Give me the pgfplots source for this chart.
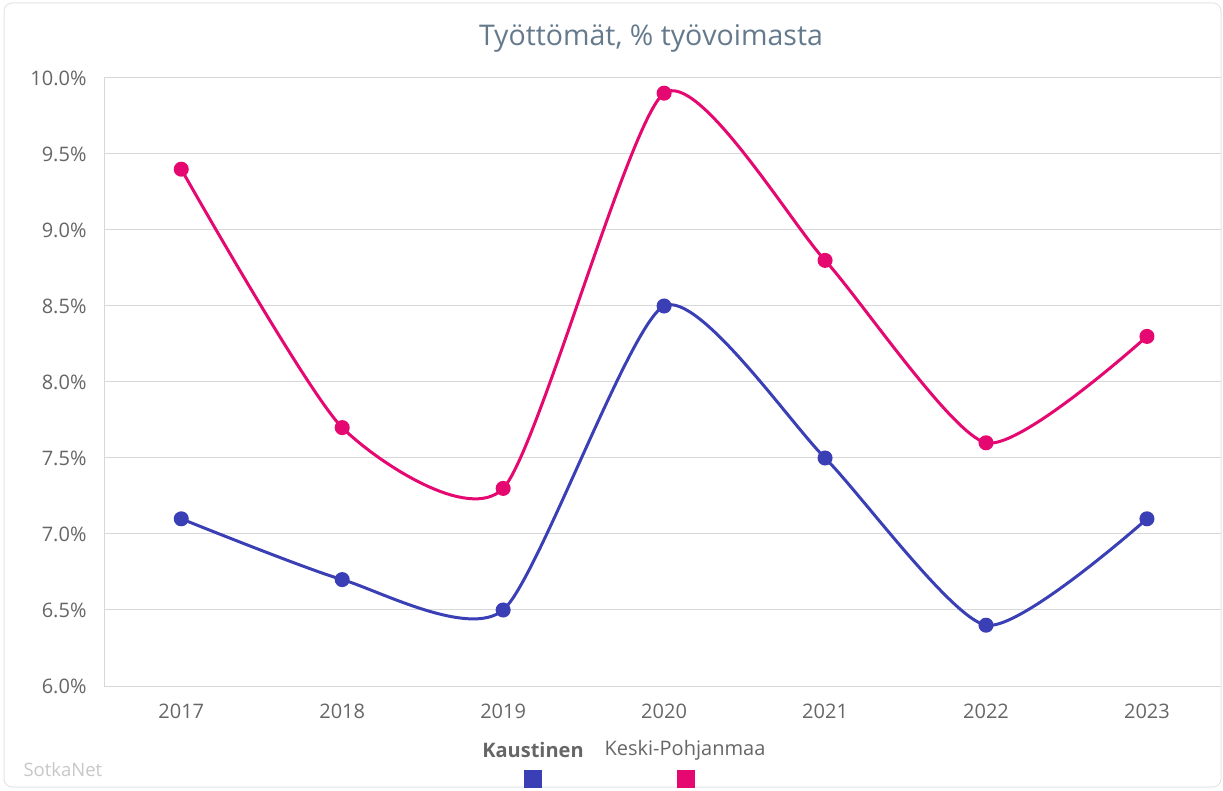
\documentclass[border=0pt]{standalone}
\usepackage{pgfplots}
\pgfplotsset{compat=1.18}
\usepackage{fontspec}
\setmainfont{Open Sans}
\definecolor{kblue}{RGB}{59,63,181}
\definecolor{kpink}{RGB}{228,8,112}
\definecolor{tickgray}{RGB}{102,102,102}
\definecolor{titlegray}{RGB}{100,122,140}
\definecolor{gridgray}{RGB}{216,216,216}
\begin{document}
\begin{tikzpicture}[x=1pt,y=1pt]
\path[use as bounding box] (0,0) rectangle (1223,790);
\draw[gridgray!70, line width=1pt, rounded corners=8pt] (4,3) rectangle (1221,787);
\node[font=\fontsize{28.5}{33}\selectfont, text=titlegray] at (651,752) {Työttömät, \% työvoimasta};
\begin{axis}[
  at={(104pt,104pt)}, anchor=south west,
  scale only axis, width=1117pt, height=608pt,
  xmin=-0.48, xmax=6.46, ymin=6, ymax=10,
  xtick={0,1,2,3,4,5,6},
  xticklabels={2017,2018,2019,2020,2021,2022,2023},
  ytick={6,6.5,7,7.5,8,8.5,9,9.5,10},
  yticklabels={6.0\%,6.5\%,7.0\%,7.5\%,8.0\%,8.5\%,9.0\%,9.5\%,10.0\%},
  ymajorgrids, major grid style={gridgray, line width=1pt},
  axis x line*=bottom, axis y line*=left,
  axis line style={gridgray, line width=1pt, -},
  tick style={draw=none},
  ticklabel style={font=\fontsize{20}{24}\selectfont, text=tickgray},
  yticklabel style={xshift=-14pt},
  xticklabel style={yshift=-14pt},
  clip=false,
]
\addplot[kblue, line width=3pt, smooth, tension=0.38, mark=*, mark size=6pt, mark options={solid, fill=kblue, draw=kblue}]
  coordinates {(0,7.1) (1,6.7) (2,6.5) (3,8.5) (4,7.5) (5,6.4) (6,7.1)};
\addplot[kpink, line width=3pt, smooth, tension=0.38, mark=*, mark size=6pt, mark options={solid, fill=kpink, draw=kpink}]
  coordinates {(0,9.4) (1,7.7) (2,7.3) (3,9.9) (4,8.8) (5,7.6) (6,8.3)};
\end{axis}
\node[font=\fontsize{20}{24}\selectfont\bfseries, text=tickgray] at (533,40) {Kaustinen};
\node[font=\fontsize{20}{24}\selectfont, text=tickgray] at (685,40) {Keski-Pohjanmaa};
\fill[kblue] (524,2) rectangle (542,20);
\fill[kpink] (677,2) rectangle (695,20);
\node[font=\fontsize{18.5}{22}\selectfont, text=black!22, anchor=west] at (20,20) {SotkaNet};
\end{tikzpicture}
\end{document}
